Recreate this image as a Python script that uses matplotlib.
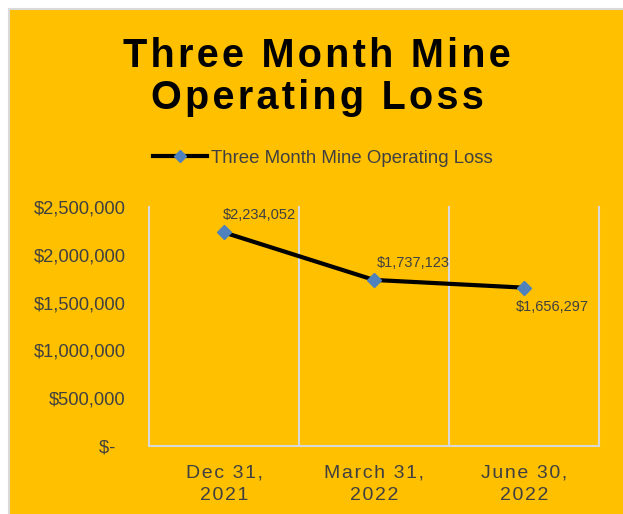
import matplotlib
matplotlib.use("Agg")
import matplotlib.pyplot as plt
from matplotlib.lines import Line2D
from matplotlib.patches import Rectangle

# data
periods = ["Dec 31,\n2021", "March 31,\n2022", "June 30,\n2022"]
loss = [2234052, 1737123, 1656297]
yticks = [0, 500000, 1000000, 1500000, 2000000, 2500000]
series_name = "Three Month Mine Operating Loss"
title = "Three Month Mine\nOperating Loss"

gold = "#FFC000"
grey_txt = "#404040"
grid_col = "#D9D9D9"
fams = ["Liberation Sans", "DejaVu Sans"]
plt.rcParams["font.family"] = fams

W, H = 623, 514


def spaced(s, sp="\u200a"):
    # fake letter spacing
    return "\n".join(sp.join(line) for line in s.split("\n"))


fig = plt.figure(figsize=(W / 100, H / 100), dpi=100, facecolor="white")
fig.patches.append(Rectangle((8.5 / W, -0.1), 1.2, (H - 8.5) / H + 0.1,
                             transform=fig.transFigure, facecolor=gold,
                             edgecolor=grid_col, lw=1.5, zorder=-5))

ax = fig.add_axes([149 / W, (H - 446) / H, 450 / W, 239 / H])
ax.set_facecolor("none")
x = list(range(len(loss)))
ax.plot(x, loss, color="black", lw=3, marker="D", ms=7.5,
        mfc="#4F81BD", mec="#4F81BD", zorder=3, clip_on=False)

ax.set_xlim(-0.5, len(loss) - 0.5)
ax.set_ylim(0, 2500000)
ax.set_yticks(yticks)
ax.set_yticklabels([f"${v:,.0f}" if v else "$-  " for v in yticks])
ax.set_xticks(x)
ax.set_xticklabels([spaced(p) for p in periods], linespacing=1.42)
# category boundary lines
for b in range(len(loss) + 1):
    ax.axvline(b - 0.5, color=grid_col, lw=1.5, clip_on=False, zorder=1)
ax.tick_params(axis="y", length=0, pad=17, labelsize=13.2, labelcolor=grey_txt)
ax.tick_params(axis="x", length=0, pad=13, labelsize=14, labelcolor=grey_txt)
for s in ["top", "right", "left"]:
    ax.spines[s].set_visible(False)
ax.spines["bottom"].set_color(grid_col)
ax.spines["bottom"].set_linewidth(1.5)

offsets = [(-1, 17, "left"), (3, 17, "left"), (-8, -19, "left")]
for xi, v, (dx, dy, ha) in zip(x, loss, offsets):
    ax.annotate(f"${v:,.0f}", (xi, v), xytext=(dx, dy), textcoords="offset pixels",
                ha=ha, va="center", fontsize=10.5, color=grey_txt)

fig.text(317 / W, 1 - 77 / H, spaced(title), ha="center", va="center",
         fontsize=28.5, fontweight="bold", color="black", linespacing=1.15)

handle = Line2D([], [], color="black", lw=3, marker="D", ms=6,
                mfc="#4F81BD", mec="#4F81BD")
fig.legend([handle], [series_name], loc="center", bbox_to_anchor=(323 / W, 1 - 158 / H),
           frameon=False, fontsize=13.4, handlelength=2.9, handletextpad=0.2,
           labelcolor=grey_txt, borderpad=0)

fig.savefig("out.png", dpi=100, facecolor=fig.get_facecolor())
